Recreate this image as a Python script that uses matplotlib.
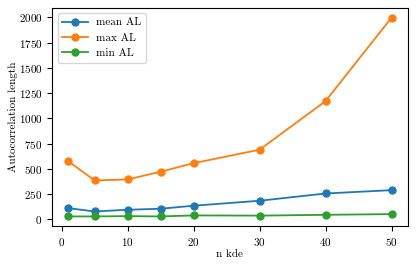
import matplotlib
matplotlib.use("Agg")
import matplotlib.pyplot as plt

n_kde = [1, 5, 10, 15, 20, 30, 40, 50]
mean_al = [112, 79, 96, 106, 136, 185, 257, 290]
max_al = [577, 386, 396, 472, 557, 690, 1171, 1997]
min_al = [30, 30, 33, 30, 40, 38, 46, 53]

plt.rcParams["font.family"] = "serif"
plt.rcParams["font.serif"] = ["cmr10"]
plt.rcParams["mathtext.fontset"] = "cm"
plt.rcParams["axes.formatter.use_mathtext"] = True
plt.rcParams["font.size"] = 8

fig, ax = plt.subplots(figsize=(4.16, 2.66), dpi=100)
ax.plot(n_kde, mean_al, marker="o", markersize=5, linewidth=1.3, label="mean AL")
ax.plot(n_kde, max_al, marker="o", markersize=5, linewidth=1.3, label="max AL")
ax.plot(n_kde, min_al, marker="o", markersize=5, linewidth=1.3, label="min AL")
ax.set_xlabel("n kde", labelpad=1)
ax.set_ylabel("Autocorrelation length")
ax.yaxis.set_label_coords(-0.095, 0.5)
ax.set_yticks([0, 250, 500, 750, 1000, 1250, 1500, 1750, 2000])
ax.legend(loc="upper left", handlelength=2.3)
fig.subplots_adjust(left=0.125, right=0.98, top=0.971, bottom=0.149)
fig.savefig("out.png", dpi=100)
